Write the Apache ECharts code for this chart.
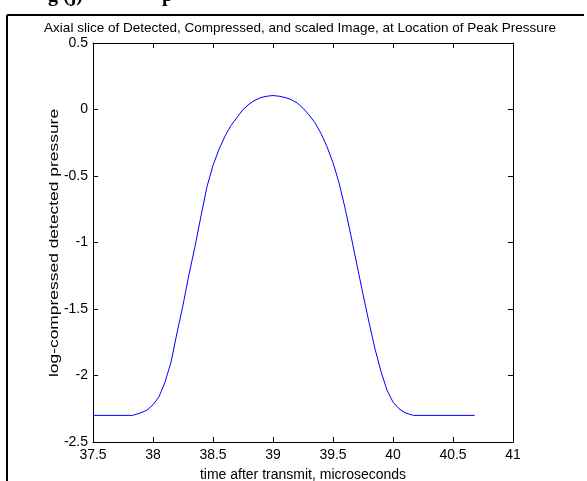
<!DOCTYPE html>
<html><head><meta charset="utf-8">
<script src="https://cdn.jsdelivr.net/npm/echarts@6/dist/echarts.min.js"></script>
<style>html,body{margin:0;padding:0;background:#fff;overflow:hidden}#c{width:587px;height:481px}</style>
</head><body><div id="c"></div>
<script>
const timeUs = [37.50,37.83,37.90,37.95,38.00,38.05,38.10,38.15,38.20,38.25,38.30,38.35,38.40,38.45,38.50,38.55,38.60,38.65,38.70,38.75,38.80,38.85,38.90,38.95,39.00,39.05,39.10,39.15,39.20,39.25,39.30,39.35,39.40,39.45,39.50,39.55,39.60,39.65,39.70,39.75,39.80,39.85,39.90,39.95,40.00,40.05,40.10,40.17,40.68];
const pressure = [-2.30,-2.30,-2.28,-2.26,-2.22,-2.16,-2.05,-1.90,-1.68,-1.47,-1.24,-1.03,-0.80,-0.58,-0.42,-0.30,-0.20,-0.12,-0.06,0.00,0.04,0.07,0.09,0.10,0.105,0.10,0.09,0.075,0.05,0.01,-0.04,-0.10,-0.18,-0.28,-0.40,-0.55,-0.74,-0.95,-1.17,-1.39,-1.60,-1.80,-1.97,-2.11,-2.20,-2.25,-2.28,-2.30,-2.30];
const titleText = 'Axial slice of Detected, Compressed, and scaled Image, at Location of Peak Pressure';
const xName = 'time after transmit, microseconds';
const yName = 'log-compressed detected pressure';

const F = 'Liberation Sans, Arial, sans-serif';
const chart = echarts.init(document.getElementById('c'), null, {renderer:'canvas',width:587,height:481});
const axisCommon = {
  axisLine:{show:true,onZero:false,lineStyle:{color:'#000',width:1}},
  axisTick:{show:true,inside:true,length:5,lineStyle:{color:'#000'}},
  splitLine:{show:false}
};
chart.setOption({
  animation:false,
  backgroundColor:'#fff',
  title:{text:titleText,left:295,textAlign:'center',top:16,textStyle:{fontFamily:F,fontSize:13.5,fontWeight:'normal',color:'#000'}},
  grid:{left:93,right:74,top:43,bottom:39,containLabel:false,outerBoundsMode:'none'},
  xAxis:[
    Object.assign({type:'value',min:37.5,max:41,interval:0.5,position:'bottom',
      name:xName,nameLocation:'middle',nameGap:26,nameTextStyle:{fontFamily:F,fontSize:14,color:'#000'},
      axisLabel:{fontFamily:F,fontSize:14,color:'#000',margin:6}},axisCommon),
    Object.assign({type:'value',min:37.5,max:41,interval:0.5,position:'top',axisLabel:{show:false}},axisCommon)
  ],
  yAxis:[
    Object.assign({type:'value',min:-2.5,max:0.5,interval:0.5,position:'left',
      axisLabel:{fontFamily:F,fontSize:14,color:'#000',margin:5}},axisCommon),
    Object.assign({type:'value',min:-2.5,max:0.5,interval:0.5,position:'right',axisLabel:{show:false}},axisCommon)
  ],
  series:[{type:'line',xAxisIndex:0,yAxisIndex:0,data:timeUs.map((t,i)=>[t,pressure[i]]),
    showSymbol:false,lineStyle:{color:'#0000ff',width:1},itemStyle:{color:'#0000ff'}}],
  graphic:[
    {type:'line',shape:{x1:7,y1:15,x2:584,y2:15},style:{stroke:'#000',lineWidth:2}},
    {type:'line',shape:{x1:7,y1:15,x2:7,y2:481},style:{stroke:'#000',lineWidth:2}},
    {type:'text',left:48,top:-14,style:{text:'g (j)',font:'bold 20px Liberation Serif, Times New Roman, serif',fill:'#000'}},
    {type:'text',left:162,top:-14,style:{text:'p',font:'bold 20px Liberation Serif, Times New Roman, serif',fill:'#000'}},
    {type:'text',x:54,y:243,rotation:Math.PI/2,scaleX:1.34,scaleY:1,
      style:{text:yName,font:'13px Liberation Sans, Arial, sans-serif',fill:'#000',textAlign:'center',textVerticalAlign:'middle'}}
  ]
});
</script></body></html>
